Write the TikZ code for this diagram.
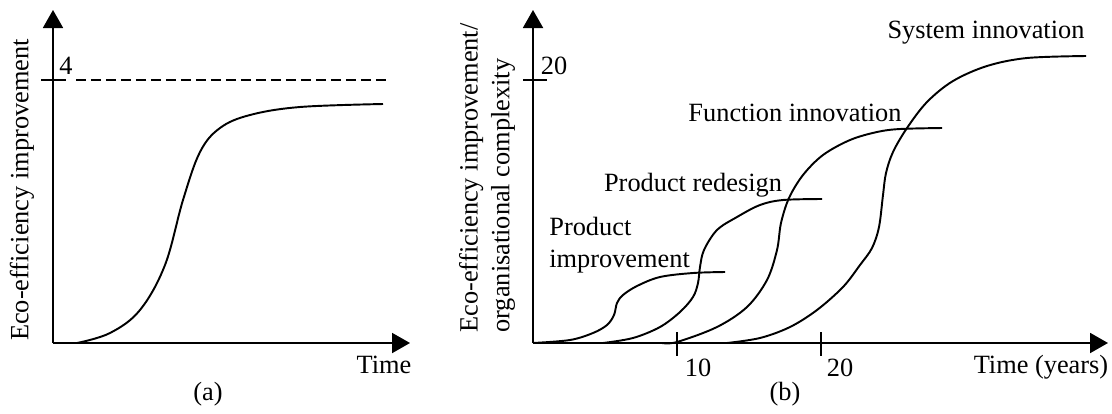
\documentclass[tikz,border=0pt]{standalone}
\usepackage{fontspec}
\setmainfont{Liberation Serif}
\usetikzlibrary{arrows.meta}
\begin{document}
\begin{tikzpicture}[x=0.02cm,y=-0.02cm,
				every node/.style={inner sep=0pt,font=\fontsize{15}{18}\selectfont},
				axis/.style={line width=1.1pt,-{Triangle[length=0.36cm,width=0.4cm]}},
				tickline/.style={line width=1.1pt},
				curve/.style={line width=1.1pt}]
\useasboundingbox (0,0) rectangle (1112,413);
\coordinate (oa) at (53,343);
\coordinate (ya) at (53,10);
\coordinate (xa) at (410,343);
\draw[axis] (oa) -- (ya);
\draw[axis] (oa) -- (xa);
\draw[tickline] (41,80) coordinate (ta1) -- (66,80) coordinate (ta2);
\draw[tickline,dash pattern=on 0.21cm off 0.09cm] (76,80) coordinate (da1) -- (390,80) coordinate (da2);
\node (four) at (66,66) {4};
\node[rotate=90] (ylabela) at (22,190) {Eco-efficiency improvement};
\node (timea) at (384,365) {Time};
\node (capa) at (208,394) {(a)};
\draw[curve] plot[smooth,tension=0.6] coordinates {(77,343) (110,333) (140,310) (165,265)
	(183,200) (200,152) (220,128) (250,115) (300,107) (383,104)};

\coordinate (ob) at (533,343);
\coordinate (yb) at (533,10);
\coordinate (xb) at (1108,343);
\draw[axis] (ob) -- (yb);
\draw[axis] (ob) -- (xb);
\draw[tickline] (523,80) coordinate (tb1) -- (547,80) coordinate (tb2);
\draw[tickline] (677,332) coordinate (t10a) -- (677,356) coordinate (t10b);
\draw[tickline] (821,332) coordinate (t20a) -- (821,356) coordinate (t20b);
\node (twenty) at (554,66) {20};
\node (ten) at (698,368) {10};
\node (twentyx) at (840,368) {20};
\node (timeb) at (1041,367) {Time (years)};
\node (capb) at (785,394) {(b)};
\node[rotate=90,align=left] (ylabelb) at (487,178) {Eco-efficiency improvement/\\organisational complexity};
\node (sysinno) at (986,33) {System innovation};
\node (funcinno) at (795,113) {Function innovation};
\node (prodredes) at (693,185) {Product redesign};
\node[align=left,anchor=west] (prodimpr) at (549,245) {Product\\improvement};
\draw[curve] plot[smooth,tension=0.55] coordinates {(533,343) (570,340) (593,333) (607,325) (614,315)
	(617,303) (623,295) (637,286) (660,277) (693,273) (725,272)};
\draw[curve] plot[smooth,tension=0.55] coordinates {(603,343) (633,338) (660,327) (680,312) (693,297)
	(698,283) (700,267) (704,250) (717,230) (737,217) (760,205) (783,200) (822,199)};
\draw[curve] plot[smooth,tension=0.55] coordinates {(662,343) (677,342) (717,327) (747,307) (767,280)
	(777,250) (781,223) (789,198) (803,175) (823,155) (850,140) (877,132) (900,129) (942,128)};
\draw[curve] plot[smooth,tension=0.55] coordinates {(727,343) (760,338) (790,327) (817,310) (843,287)
	(860,265) (872,248) (879,227) (883,195) (886,173) (893,152) (907,128) (927,102) (953,81)
	(987,66) (1027,58) (1086,56)};
\end{tikzpicture}
\end{document}
